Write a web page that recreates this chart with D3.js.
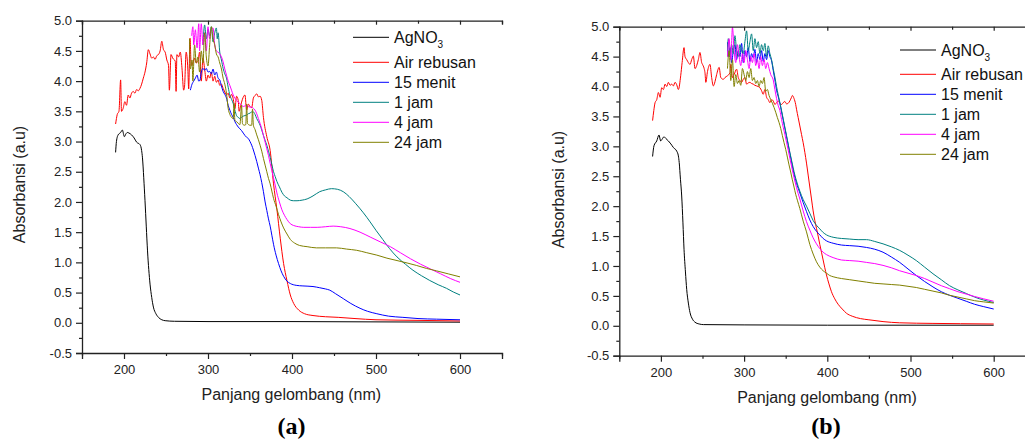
<!DOCTYPE html>
<html><head><meta charset="utf-8">
<script src="https://cdn.jsdelivr.net/npm/d3@7"></script>
<style>
body{margin:0;background:#fff}
svg{display:block}
</style>
</head><body>
<svg id="c" width="1025" height="440"></svg>
<script>
// ---------- data ----------
const seriesNames = ["AgNO3", "Air rebusan", "15 menit", "1 jam", "4 jam", "24 jam"];
const seriesColors = ["#000000", "#ff0000", "#0000ff", "#008080", "#ff00ff", "#808000"];
const xMajorTicks = [200, 300, 400, 500, 600];
const xMinorTicks = [150, 250, 350, 450, 550, 650];
const yMajorTicks = [-0.5, 0.0, 0.5, 1.0, 1.5, 2.0, 2.5, 3.0, 3.5, 4.0, 4.5, 5.0];
const yMinorTicks = [-0.25, 0.25, 0.75, 1.25, 1.75, 2.25, 2.75, 3.25, 3.75, 4.25, 4.75];
const panelLabels = ["(a)", "(b)"];
const xTitle = "Panjang gelombang (nm)";
const yTitle = "Absorbansi (a.u)";

// panel (a) : [wavelength nm, absorbance]
const a_agno3 = [[190,2.82],[191,3.0],[193,3.11],[196,3.15],[198,3.19],[200.5,3.08],[202,3.12],[204,3.15],[206,3.14],[209,3.11],[212,3.06],[215,2.99],[219,2.95],[221,2.85],[222,2.73],[223.5,2.4],[225,2.02],[226.5,1.6],[228,1.19],[229.5,0.88],[231,0.64],[233,0.42],[235,0.26],[238,0.15],[241,0.09],[245,0.05],[249,0.035],[260,0.025],[300,0.02],[400,0.02],[500,0.015],[600,0.01]];
const a_air = [[190,3.29],[192,3.45],[194,3.5],[196,4.02],[197,3.5],[199,3.55],[201,3.66],[203,3.6],[205,3.77],[207,3.72],[209,3.8],[211,3.83],[213,3.8],[215,3.86],[217,3.84],[219,3.88],[221,3.95],[223,4.05],[225,4.15],[227,4.3],[229,4.52],[231,4.45],[233,4.38],[235,4.4],[237,4.36],[239,4.42],[241,4.44],[243,4.5],[245,4.66],[247,4.52],[249,4.48],[251,4.35],[253,4.26],[254,3.85],[256,4.44],[258,4.38],[261,4.33],[262,3.83],[263,4.44],[265,4.4],[267,4.48],[269,4.22],[271,3.85],[272,3.9],[274,4.48],[276,4.2],[277,3.87],[278.6,4.71],[280,4.26],[282,4.3],[284,4.38],[286,4.3],[288,4.33],[290,4.48],[292,4.0],[294,4.38],[296,4.2],[298,4.0],[300,4.1],[302,4.05],[304,4.15],[306,4.0],[308,4.08],[310,3.98],[312,4.02],[314,3.93],[316,3.95],[318,3.88],[320,3.82],[322,3.77],[324,3.8],[326,3.72],[328,3.78],[330,3.71],[332,3.54],[334,3.75],[336,3.68],[337,3.5],[339,3.6],[341,3.7],[344,3.77],[346,3.52],[348,3.62],[350,3.58],[352,3.56],[354,3.72],[356,3.76],[358,3.79],[360,3.74],[362,3.75],[364,3.68],[366,3.40],[370,3.08],[374,2.85],[378,2.3],[382,1.88],[386,1.4],[390,0.98],[394,0.7],[398,0.46],[402,0.32],[408,0.21],[415,0.15],[425,0.12],[440,0.1],[455,0.09],[475,0.07],[500,0.05],[550,0.04],[600,0.03]];
const a_15m = [[279,3.85],[281,3.95],[283,4.0],[285,4.05],[287,4.1],[289,4.0],[290.5,4.02],[292,4.15],[294,4.21],[296,4.18],[298,4.21],[300,4.15],[302,4.16],[304,4.12],[306,4.2],[308,4.1],[310,4.15],[312,4.05],[314,4.02],[316,3.92],[318,3.83],[320,3.78],[322,3.72],[324,3.6],[326,3.52],[328,3.45],[330,3.40],[332,3.33],[334,3.28],[336,3.24],[338,3.21],[340,3.18],[342,3.14],[344,3.1],[346,3.07],[348,3.05],[350,3.0],[352,2.94],[354,2.86],[356,2.77],[358,2.67],[360,2.56],[362,2.45],[364,2.32],[366,2.17],[368,2.0],[370,1.86],[372,1.72],[374,1.6],[376,1.45],[378,1.3],[381,1.12],[384,0.98],[387,0.86],[390,0.77],[394,0.69],[398,0.65],[405,0.62],[413,0.61],[425,0.6],[433,0.58],[440,0.56],[445,0.54],[452,0.48],[461,0.40],[470,0.32],[481,0.24],[490,0.19],[501,0.15],[515,0.11],[532,0.09],[550,0.07],[572,0.06],[600,0.05]];
const a_1j = [[294,4.6],[296,4.93],[298,4.7],[300,4.85],[302,4.75],[304,4.9],[306,4.65],[308,4.8],[310,4.88],[311,4.7],[312,4.8],[314,4.48],[316,4.35],[318,4.21],[320,4.12],[322,4.05],[324,3.9],[326,3.77],[328,3.7],[330,3.63],[332,3.52],[334,3.43],[336,3.4],[338,3.38],[340,3.4],[342,3.42],[344,3.43],[346,3.44],[348,3.46],[350,3.47],[352,3.49],[354,3.49],[356,3.45],[358,3.38],[360,3.33],[362,3.27],[364,3.19],[366,3.10],[368,3.02],[370,2.94],[372,2.84],[374,2.74],[376,2.62],[378,2.50],[380,2.42],[382,2.34],[385,2.25],[388,2.16],[391,2.1],[394,2.07],[398,2.03],[402,2.02],[406,2.02],[412,2.03],[418,2.05],[425,2.1],[433,2.17],[440,2.2],[447,2.22],[454,2.21],[461,2.17],[468,2.09],[476,1.97],[485,1.82],[493,1.67],[500,1.53],[508,1.38],[516,1.23],[525,1.09],[535,0.97],[544,0.87],[554,0.78],[564,0.70],[574,0.63],[584,0.57],[592,0.51],[600,0.46]];
const a_4j = [[280.6,4.75],[282,4.9],[283,4.6],[285,4.85],[287,4.55],[289,4.95],[290,4.5],[292,4.95],[294,4.6],[296,4.8],[298,4.5],[300,4.9],[302,4.7],[304,4.85],[306,4.88],[308,4.6],[310,4.5],[312,4.48],[314,4.45],[316,4.4],[318,4.32],[320,4.2],[322,4.1],[324,4.0],[326,3.93],[328,3.85],[330,3.77],[332,3.72],[334,3.68],[336,3.65],[338,3.63],[340,3.6],[342,3.58],[344,3.59],[346,3.6],[348,3.58],[350,3.57],[352,3.57],[354,3.55],[356,3.52],[358,3.46],[360,3.38],[362,3.3],[364,3.21],[366,3.1],[368,2.99],[370,2.88],[372,2.77],[374,2.64],[376,2.52],[378,2.4],[380,2.28],[382,2.15],[385,2.0],[388,1.87],[391,1.78],[394,1.71],[398,1.64],[402,1.61],[408,1.59],[414,1.58],[422,1.58],[430,1.58],[440,1.59],[449,1.60],[458,1.59],[469,1.56],[481,1.5],[493,1.42],[505,1.34],[517,1.26],[529,1.16],[541,1.06],[553,0.97],[565,0.89],[577,0.81],[589,0.73],[600,0.67]];
const a_24j = [[278,4.7],[279,4.2],[281,4.35],[282,4.0],[284,4.6],[286,4.3],[288,4.4],[290,4.15],[292,4.5],[294,4.3],[296,4.8],[298,4.4],[300,4.25],[302,4.6],[304,4.9],[306,4.7],[308,4.6],[310,4.45],[312,4.4],[314,4.3],[316,4.2],[318,4.05],[320,3.95],[322,3.8],[324,3.55],[326,3.45],[328,3.4],[330,3.38],[331,3.63],[332,3.35],[334,3.33],[336,3.3],[338,3.28],[340,3.6],[341,3.3],[343,3.27],[345,3.28],[346,3.62],[347,3.3],[350,3.27],[352,3.27],[353,3.54],[354,3.27],[356,3.2],[358,3.11],[360,3.03],[362,2.94],[364,2.84],[366,2.72],[368,2.61],[370,2.50],[372,2.39],[374,2.3],[376,2.18],[378,2.06],[381,1.93],[384,1.79],[387,1.67],[390,1.57],[394,1.47],[398,1.38],[403,1.32],[409,1.28],[418,1.26],[429,1.24],[440,1.24],[453,1.24],[465,1.22],[477,1.2],[489,1.16],[501,1.12],[513,1.07],[525,1.03],[537,0.99],[548,0.95],[560,0.9],[572,0.86],[586,0.81],[600,0.76]];

// panel (b)
const b_agno3 = [[190,2.83],[191.7,3.01],[195,3.09],[197.7,3.19],[199.7,3.09],[201.5,3.12],[203.7,3.16],[206,3.13],[209,3.09],[212,3.04],[215,2.98],[219,2.92],[221,2.84],[222,2.73],[223.5,2.45],[225,2.17],[226.5,1.72],[227.8,1.28],[229.5,0.9],[231,0.61],[233,0.38],[235,0.22],[238,0.11],[241,0.06],[246,0.03],[251,0.02],[300,0.015],[400,0.01],[600,0.01]];
const b_air = [[190,3.43],[191.5,3.6],[193,3.73],[195,3.78],[197,3.9],[199,3.82],[201,3.98],[203,3.95],[205,4.04],[207,4.0],[209,4.07],[211,4.02],[213,4.04],[215,4.01],[217,4.07],[219,4.03],[221,3.95],[223.8,4.18],[225.5,4.4],[227.8,4.65],[229,4.5],[231,4.45],[233,4.4],[235,4.37],[237,4.45],[239,4.51],[241,4.3],[243,4.35],[245,4.45],[247,4.57],[249,4.4],[250,4.37],[252,4.3],[253,4.23],[254,4.07],[256,4.25],[259,4.37],[261,4.15],[263,4.01],[265,4.08],[267,4.2],[270,4.32],[272,4.15],[275,4.12],[277,4.15],[280,4.18],[283,4.23],[284,4.37],[286,4.15],[288,4.2],[291,4.29],[293,4.15],[295,4.1],[297,4.07],[299,4.12],[301,4.15],[303,4.04],[305,4.06],[307,4.07],[309,4.05],[311,4.04],[313,4.02],[315,4.01],[317,4.0],[319,3.98],[321,3.93],[323,3.87],[325,3.95],[327,3.82],[329,3.78],[331,3.73],[333,3.78],[335,3.76],[337,3.7],[339,3.73],[341,3.76],[343,3.72],[345,3.7],[347,3.73],[349,3.75],[351,3.71],[353,3.72],[355,3.76],[357,3.82],[358,3.85],[360,3.8],[362,3.7],[363,3.62],[365,3.48],[367,3.34],[369,3.2],[371,3.06],[373,2.9],[375,2.72],[377,2.52],[379,2.32],[381,2.12],[383,1.92],[385,1.76],[387,1.63],[389,1.5],[391,1.36],[393,1.23],[395,1.1],[397,0.97],[399,0.85],[402,0.7],[405,0.57],[409,0.45],[413,0.36],[418,0.28],[423,0.21],[430,0.16],[440,0.12],[450,0.1],[467,0.07],[487,0.05],[527,0.04],[560,0.035],[600,0.03]];
const b_15m = [[280,4.74],[281,4.5],[283,4.65],[285,4.4],[287,4.6],[289,4.7],[291,4.45],[293,4.6],[295,4.5],[297,4.72],[299,4.4],[301,4.6],[303,4.5],[305,4.65],[307,4.42],[309,4.55],[311,4.48],[313,4.62],[315,4.4],[317,4.55],[319,4.45],[321,4.6],[323,4.42],[325,4.55],[327,4.45],[329,4.6],[331,4.5],[333,4.43],[335,4.27],[337,4.11],[339,3.94],[341,3.83],[343,3.72],[345,3.58],[347,3.44],[349,3.3],[351,3.16],[353,3.02],[355,2.88],[357,2.74],[359,2.6],[361,2.48],[363,2.38],[365,2.3],[367,2.22],[371,2.06],[375,1.91],[379,1.77],[383,1.66],[387,1.58],[391,1.52],[395,1.46],[399,1.42],[407,1.38],[417,1.35],[427,1.34],[437,1.33],[447,1.31],[457,1.28],[467,1.23],[477,1.15],[487,1.06],[497,0.95],[507,0.84],[517,0.74],[527,0.65],[537,0.57],[547,0.51],[557,0.46],[567,0.41],[577,0.36],[588,0.32],[600,0.28]];
const b_1j = [[280,4.6],[281,4.8],[283,4.5],[285,4.7],[287,4.55],[289,4.85],[291,4.6],[293,4.5],[295,4.7],[297,4.6],[299,4.55],[301,4.75],[303,4.93],[305,4.6],[307,4.75],[309,4.88],[311,4.6],[313,4.8],[315,4.65],[317,4.75],[319,4.55],[321,4.7],[323,4.6],[325,4.72],[327,4.5],[329,4.68],[331,4.55],[333,4.45],[335,4.3],[337,4.16],[339,4.0],[341,3.86],[343,3.73],[345,3.6],[347,3.46],[349,3.32],[351,3.18],[353,3.04],[355,2.9],[357,2.77],[359,2.64],[361,2.52],[363,2.42],[365,2.33],[367,2.25],[371,2.11],[375,2.0],[379,1.88],[383,1.76],[387,1.68],[391,1.62],[395,1.56],[399,1.52],[407,1.48],[417,1.46],[427,1.45],[437,1.44],[447,1.44],[457,1.41],[467,1.37],[477,1.32],[487,1.26],[497,1.18],[507,1.09],[517,0.98],[527,0.87],[537,0.77],[547,0.67],[557,0.6],[567,0.54],[577,0.48],[588,0.43],[600,0.39]];
const b_4j = [[280,4.5],[282,4.8],[284,4.45],[286,4.99],[288,4.6],[290,4.4],[292,4.7],[294,4.5],[296,4.35],[298,4.55],[300,4.4],[302,4.6],[304,4.45],[306,4.3],[308,4.5],[310,4.4],[312,4.55],[314,4.35],[316,4.45],[318,4.3],[320,4.5],[322,4.35],[324,4.45],[326,4.3],[328,4.4],[330,4.3],[332,4.2],[335,4.11],[337,3.95],[339,3.8],[341,3.68],[343,3.6],[345,3.45],[347,3.32],[349,3.2],[351,3.07],[353,2.94],[355,2.8],[357,2.67],[359,2.54],[361,2.42],[363,2.31],[365,2.21],[367,2.12],[371,1.92],[375,1.74],[379,1.6],[383,1.47],[387,1.37],[391,1.29],[395,1.23],[399,1.19],[407,1.14],[417,1.1],[427,1.09],[437,1.08],[447,1.06],[457,1.04],[467,1.01],[477,0.97],[487,0.92],[497,0.88],[507,0.84],[517,0.79],[527,0.73],[537,0.67],[547,0.62],[557,0.57],[567,0.53],[577,0.49],[588,0.45],[600,0.41]];
const b_24j = [[280,4.3],[282,4.6],[284,4.1],[286,4.45],[288,4.0],[290,4.2],[292,4.05],[294,4.1],[296,4.02],[298,4.3],[300,4.2],[302,4.1],[304,4.25],[306,4.15],[308,4.3],[310,4.1],[312,4.15],[314,4.05],[316,4.1],[318,4.0],[320,4.1],[322,4.05],[324,4.15],[326,3.92],[328,3.95],[330,3.85],[332,3.78],[334,3.72],[336,3.65],[338,3.57],[340,3.48],[342,3.4],[344,3.3],[346,3.18],[348,3.06],[350,2.95],[352,2.82],[354,2.69],[356,2.57],[358,2.44],[360,2.32],[362,2.2],[364,2.1],[367,1.96],[371,1.75],[375,1.57],[379,1.36],[383,1.2],[387,1.07],[391,0.98],[395,0.92],[399,0.88],[403,0.84],[407,0.82],[417,0.79],[427,0.77],[437,0.75],[447,0.73],[457,0.71],[467,0.7],[477,0.69],[487,0.68],[497,0.66],[507,0.64],[517,0.61],[527,0.58],[537,0.55],[547,0.51],[557,0.48],[567,0.45],[577,0.42],[588,0.4],[600,0.38]];

const panelA = [a_agno3, a_air, a_15m, a_1j, a_4j, a_24j];
const panelB = [b_agno3, b_air, b_15m, b_1j, b_4j, b_24j];

// ---------- layout ----------
const SANS = '"Liberation Sans", Arial, sans-serif';
const SERIF = '"Liberation Serif", "Times New Roman", serif';
const svg = d3.select("#c");
const panels = [
  {data: panelA, x0: 82, x1: 502, y0: 20.7, y1: 353, yTitleX: 19.5, yTitleY: 184.5, xTitleX: 291.3, xTitleY: 400, labelX: 291.5,
   legX: 353, legY: [37.3, 62.3, 82.3, 102.3, 122.3, 142.3]},
  {data: panelB, x0: 619.3, x1: 1035.3, y0: 26.7, y1: 355.7, yTitleX: 558.3, yTitleY: 189.5, xTitleX: 827, xTitleY: 403, labelX: 826,
   legX: 900, legY: [50, 74.3, 94.3, 114.3, 134.3, 154.3]}
];

panels.forEach((p, pi) => {
  const x = d3.scaleLinear().domain([150, 650]).range([p.x0, p.x1]);
  const y = d3.scaleLinear().domain([-0.5, 5.0]).range([p.y1, p.y0]);
  const g = svg.append("g");

  // series lines
  const line = d3.line().x(d => x(d[0])).y(d => y(d[1])).curve(d3.curveMonotoneX);
  p.data.forEach((s, i) => {
    g.append("path").datum(s).attr("d", line)
      .attr("fill", "none").attr("stroke", seriesColors[i]).attr("stroke-width", 1);
  });

  const axisStyle = sel => {
    sel.select(".domain").attr("stroke", "#222").attr("stroke-width", 1.3);
    sel.selectAll(".tick line").attr("stroke", "#222").attr("stroke-width", 1.2);
    sel.selectAll(".tick text").attr("fill", "#222").style("font-size", "13px").style("font-family", SANS);
  };

  // left axis
  const yl = g.append("g").attr("transform", `translate(${p.x0},0)`)
    .call(d3.axisLeft(y).tickValues(yMajorTicks).tickSize(6).tickPadding(4).tickFormat(v => v.toFixed(1)));
  axisStyle(yl);
  const ylm = g.append("g").attr("transform", `translate(${p.x0},0)`)
    .call(d3.axisLeft(y).tickValues(yMinorTicks).tickSize(3).tickFormat(""));
  axisStyle(ylm); ylm.select(".domain").remove();

  // bottom axis
  const xb = g.append("g").attr("transform", `translate(0,${p.y1})`)
    .call(d3.axisBottom(x).tickValues(xMajorTicks).tickSize(6).tickPadding(6).tickFormat(d3.format("d")));
  axisStyle(xb);
  const xbm = g.append("g").attr("transform", `translate(0,${p.y1})`)
    .call(d3.axisBottom(x).tickValues(xMinorTicks).tickSize(3).tickFormat(""));
  axisStyle(xbm); xbm.select(".domain").remove();

  // top axis (inward ticks)
  const xt = g.append("g").attr("transform", `translate(0,${p.y0})`)
    .call(d3.axisBottom(x).tickValues(xMajorTicks).tickSize(4).tickFormat(""));
  axisStyle(xt);
  const xtm = g.append("g").attr("transform", `translate(0,${p.y0})`)
    .call(d3.axisBottom(x).tickValues(xMinorTicks).tickSize(3).tickFormat(""));
  axisStyle(xtm); xtm.select(".domain").remove();

  // axis titles
  g.append("text").attr("transform", `translate(${p.yTitleX},${p.yTitleY}) rotate(-90)`)
    .attr("text-anchor", "middle").attr("dy", "0.35em").style("font-size", "16px").style("font-family", SANS)
    .attr("fill", "#222").text(yTitle);
  g.append("text").attr("x", p.xTitleX).attr("y", p.xTitleY)
    .attr("text-anchor", "middle").style("font-size", "16px").style("font-family", SANS)
    .attr("fill", "#222").text(xTitle);

  // panel label
  g.append("text").attr("x", p.labelX).attr("y", 434).attr("text-anchor", "middle")
    .style("font-family", SERIF).style("font-weight", "bold").style("font-size", "24px")
    .attr("fill", "#000").text(panelLabels[pi]);

  // legend
  seriesNames.forEach((name, i) => {
    const ly = p.legY[i];
    g.append("line").attr("x1", p.legX).attr("x2", p.legX + 36).attr("y1", ly).attr("y2", ly)
      .attr("stroke", seriesColors[i]).attr("stroke-width", 1);
    const t = g.append("text").attr("x", p.legX + 41).attr("y", ly + (i === 0 ? 6 : 5.5))
      .style("font-size", "16px").style("font-family", SANS).attr("fill", "#111");
    if (name === "AgNO3") {
      t.append("tspan").text("AgNO");
      t.append("tspan").style("font-size", "10px").attr("dy", 5).text("3");
    } else {
      t.text(name);
    }
  });
});
</script>
</body></html>
